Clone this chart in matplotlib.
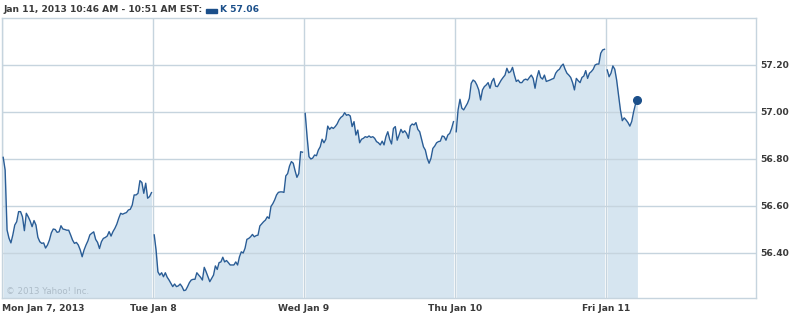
import numpy as np
import matplotlib
matplotlib.use('Agg')
import matplotlib.pyplot as plt
from matplotlib.patches import Rectangle

# 5-minute prices for each trading day
mon = [56.807, 56.753, 56.498, 56.463, 56.443, 56.477, 56.519, 56.533, 56.576, 56.576,
       56.554, 56.495, 56.569, 56.554, 56.536, 56.512, 56.538, 56.519, 56.467, 56.448,
       56.441, 56.443, 56.421, 56.434, 56.455, 56.486, 56.502, 56.500, 56.488, 56.490,
       56.516, 56.502, 56.500, 56.497, 56.497, 56.477, 56.455, 56.441, 56.445, 56.434,
       56.413, 56.384, 56.413, 56.434, 56.452, 56.477, 56.484, 56.490, 56.458, 56.445,
       56.419, 56.448, 56.462, 56.466, 56.472, 56.491, 56.472, 56.491, 56.505, 56.523,
       56.548, 56.569, 56.565, 56.569, 56.572, 56.583, 56.586, 56.604, 56.647, 56.647,
       56.654, 56.708, 56.700, 56.654, 56.697, 56.633, 56.640, 56.657]
tue = [56.477, 56.413, 56.320, 56.306, 56.316, 56.299, 56.316, 56.297, 56.285, 56.271,
       56.257, 56.268, 56.257, 56.260, 56.268, 56.257, 56.240, 56.242, 56.257, 56.274,
       56.285, 56.288, 56.288, 56.316, 56.306, 56.297, 56.285, 56.339, 56.320, 56.299,
       56.278, 56.292, 56.306, 56.345, 56.330, 56.359, 56.362, 56.382, 56.362, 56.368,
       56.359, 56.349, 56.349, 56.349, 56.362, 56.349, 56.384, 56.405, 56.400, 56.420,
       56.458, 56.462, 56.469, 56.479, 56.469, 56.474, 56.476, 56.515, 56.524, 56.533,
       56.540, 56.554, 56.547, 56.598, 56.610, 56.626, 56.647, 56.658, 56.660, 56.660,
       56.658, 56.728, 56.738, 56.770, 56.789, 56.782, 56.750, 56.722, 56.738, 56.831,
       56.829]
wed = [56.994, 56.895, 56.810, 56.800, 56.804, 56.817, 56.814, 56.838, 56.852, 56.884,
       56.869, 56.884, 56.940, 56.926, 56.935, 56.930, 56.938, 56.949, 56.966, 56.977,
       56.983, 56.997, 56.986, 56.989, 56.983, 56.938, 56.959, 56.902, 56.923, 56.869,
       56.884, 56.888, 56.895, 56.892, 56.898, 56.892, 56.895, 56.888, 56.874, 56.869,
       56.860, 56.876, 56.860, 56.895, 56.916, 56.884, 56.864, 56.930, 56.938, 56.880,
       56.902, 56.926, 56.912, 56.920, 56.909, 56.888, 56.940, 56.949, 56.945, 56.955,
       56.926, 56.916, 56.884, 56.852, 56.838, 56.803, 56.782, 56.803, 56.845, 56.855,
       56.869, 56.874, 56.876, 56.898, 56.895, 56.880, 56.902, 56.909, 56.930, 56.959]
thu = [56.916, 57.009, 57.054, 57.016, 57.009, 57.023, 57.037, 57.058, 57.122, 57.136,
       57.130, 57.115, 57.094, 57.051, 57.094, 57.108, 57.115, 57.125, 57.101, 57.130,
       57.143, 57.110, 57.108, 57.122, 57.136, 57.147, 57.157, 57.186, 57.167, 57.172,
       57.190, 57.157, 57.130, 57.136, 57.125, 57.125, 57.136, 57.140, 57.136, 57.147,
       57.157, 57.143, 57.101, 57.147, 57.176, 57.147, 57.140, 57.157, 57.130, 57.133,
       57.136, 57.140, 57.143, 57.165, 57.176, 57.182, 57.196, 57.204, 57.182, 57.165,
       57.157, 57.147, 57.125, 57.094, 57.143, 57.133, 57.125, 57.147, 57.153, 57.176,
       57.143, 57.165, 57.172, 57.182, 57.200, 57.204, 57.204, 57.250, 57.264, 57.267]
fri = [57.179, 57.150, 57.165, 57.196, 57.182, 57.136, 57.072, 57.009, 56.963, 56.975,
       56.966, 56.955, 56.940, 56.960, 57.001, 57.034, 57.051]

days = [mon, tue, wed, thu, fri]
day_labels = ['Mon Jan 7, 2013', 'Tue Jan 8', 'Wed Jan 9', 'Thu Jan 10', 'Fri Jan 11']
y_ticks = [56.40, 56.60, 56.80, 57.00, 57.20]
last_price = '57.06'

line_c = '#2a5d96'
fill_c = '#d6e5f0'
grid_c = '#c6d4de'
text_c = '#3a3a3a'
dark_blue = '#1b4f8a'
ymin, ymax = 56.2085, 57.40
fs = 6.6

fig = plt.figure(figsize=(7.96, 3.16), dpi=100)
ax = fig.add_axes([2/796, 18/316, 754/796, 280/316])

for d, vals in enumerate(days):
    if d < 4:
        x = np.linspace(d + 0.008, d + 0.99, len(vals))
    else:
        x = d + 0.008 + np.arange(len(vals)) * 5 / 400
    ax.fill_between(x, vals, ymin, color=fill_c, lw=0, zorder=1)
    ax.plot(x, vals, color=line_c, lw=1.0, zorder=4)

ax.plot(x[-1], fri[-1], 'o', color=dark_blue, ms=5.5, zorder=5)

for y in y_ticks:
    ax.axhline(y, color=grid_c, lw=1.0, zorder=2)
for d in range(5):
    ax.axvline(d, color=grid_c, lw=1.0, zorder=2)

ax.set_xlim(0, 754/151)
ax.set_ylim(ymin, ymax)
for s in ax.spines.values():
    s.set_color(grid_c)
    s.set_linewidth(1.0)

ax.yaxis.tick_right()
ax.set_yticks(y_ticks)
ax.set_yticklabels(['%.2f' % v for v in y_ticks], fontsize=fs, fontweight='bold', color=text_c)
ax.tick_params(axis='y', length=0, pad=3)

ax.set_xticks(range(5))
ax.set_xticklabels(day_labels, fontsize=fs, fontweight='bold', color=text_c)
ax.tick_params(axis='x', length=0, pad=4)
ax.get_xticklabels()[0].set_ha('left')

ax.text(0.005, 0.015, '\u00a9 2013 Yahoo! Inc.', transform=ax.transAxes,
        fontsize=6.2, color='#adbcc8', zorder=3)

# header
fig.text(3/796, 1 - 10/316, 'Jan 11, 2013 10:46 AM - 10:51 AM EST:', fontsize=fs,
         fontweight='bold', color=text_c, va='center')
fig.patches.append(Rectangle((206/796, 1 - 13/316), 11/796, 4/316,
                             transform=fig.transFigure, color=dark_blue))
fig.text(220/796, 1 - 10/316, 'K ' + last_price, fontsize=fs, fontweight='bold',
         color=dark_blue, va='center')

fig.savefig('out.png', dpi=100)
